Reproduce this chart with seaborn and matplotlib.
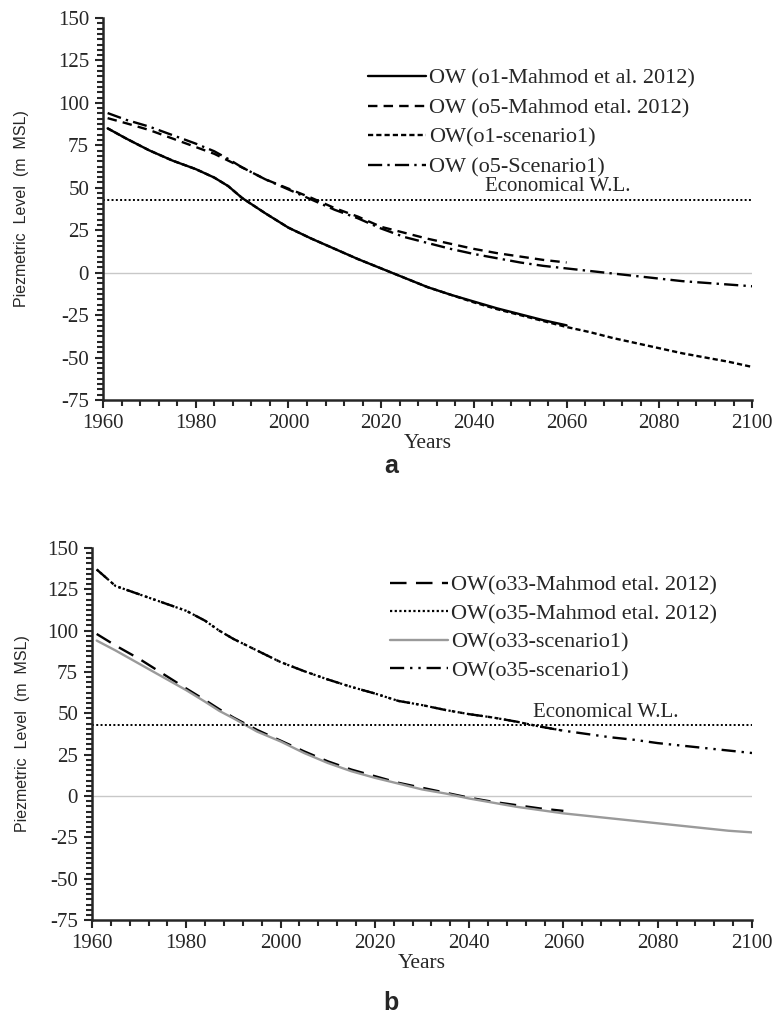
import matplotlib
matplotlib.use("Agg")
import matplotlib.pyplot as plt
from matplotlib.ticker import MultipleLocator, AutoMinorLocator
import seaborn as sns

# ---- data (panel a) ----
yrs_m = [1961, 1965, 1970, 1975, 1980, 1984, 1987, 1990, 1995, 2000, 2005, 2010,
         2015, 2020, 2025, 2030, 2035, 2040, 2045, 2050, 2055, 2060]
yrs_s = yrs_m + [2065, 2070, 2075, 2080, 2085, 2090, 2095, 2100]

o1_mahmod = [85, 79, 72, 66, 61, 56, 51, 44, 35, 26.5, 20, 14,
             8, 2.5, -3, -8.5, -13, -17, -21, -24.5, -28, -31]
o5_mahmod = [91, 88, 84, 79, 74, 70, 66, 62, 55, 49.5, 44, 38,
             33, 27, 23.5, 20, 17, 14, 11.5, 9.5, 7.5, 6]
o1_scen = [85, 79, 72, 66, 61, 56, 51, 44, 35, 26.5, 20, 14,
           8, 2.5, -3, -8.5, -13, -17.5, -21.5, -25, -28.5, -32,
           -35, -38.5, -41.5, -44.5, -47.5, -50, -52.5, -55.5]
o5_scen = [94, 90, 86, 81, 76, 71.5, 67, 62, 55, 49, 43, 37,
           32, 26, 21, 17.5, 14, 11, 8.5, 6, 4, 2.5,
           1, -0.5, -2, -3.5, -5, -6, -7, -8]

# ---- data (panel b) ----
o33_mahmod = [98, 91, 83, 74, 65, 58, 52.5, 47.5, 40, 33.5, 27, 21,
              16, 12, 8, 5, 2, -1, -3.5, -5.5, -7.5, -9]
o35_mahmod = [137, 127, 122, 117, 112, 106, 100, 95, 88, 81, 75.5, 70.5,
              66, 62, 57.5, 55, 52, 49.5, 47.5, 45, 42, 39.5]
o33_scen = [94, 88, 80, 72, 64, 57, 51.5, 47, 39, 33, 26, 20,
            15, 11, 7.5, 4, 1.5, -1.5, -4, -6.5, -8.5, -10.5,
            -12, -13.5, -15, -16.5, -18, -19.5, -21, -22]
o35_scen = [137, 127, 122, 117, 112, 106, 100, 95, 88, 81, 75.5, 70.5,
            66, 62, 57.5, 55, 52, 49.5, 47.5, 45, 42, 39.5,
            37.5, 35.5, 34, 32, 30.5, 29, 27.5, 26]

econ_wl = 43

serif = "Liberation Serif"
sans = "Liberation Sans"

sns.set_style("ticks")
plt.rcParams["font.family"] = [serif, "DejaVu Serif"]
plt.rcParams["axes.unicode_minus"] = False

fig = plt.figure(figsize=(7.82, 10.21), dpi=100)
ax1 = fig.add_axes([0.1317, 0.6082, 0.830, 0.3742])
ax2 = fig.add_axes([0.1176, 0.0989, 0.844, 0.3644])

lw = 1.7
sns.lineplot(x=yrs_m, y=o1_mahmod, ax=ax1, color="black", lw=lw,
             linestyle="-", label="OW (o1-Mahmod et al. 2012)")
sns.lineplot(x=yrs_m, y=o5_mahmod, ax=ax1, color="black", lw=lw,
             linestyle=(0, (4, 2.6)), label="OW (o5-Mahmod etal. 2012)")
sns.lineplot(x=yrs_s, y=o1_scen, ax=ax1, color="black", lw=lw,
             linestyle=(0, (2.2, 1.3)), label="OW(o1-scenario1)")
sns.lineplot(x=yrs_s, y=o5_scen, ax=ax1, color="black", lw=lw,
             linestyle=(0, (6, 2.2, 1, 2.2)), label="OW (o5-Scenario1)")

sns.lineplot(x=yrs_m, y=o33_mahmod, ax=ax2, color="black", lw=lw,
             linestyle=(0, (7, 4)), label="OW(o33-Mahmod etal. 2012)")
sns.lineplot(x=yrs_m, y=o35_mahmod, ax=ax2, color="black", lw=1.6,
             linestyle=(0, (1, 1.1)), label="OW(o35-Mahmod etal. 2012)")
sns.lineplot(x=yrs_s, y=o33_scen, ax=ax2, color="#9a9a9a", lw=lw,
             linestyle="-", label="OW(o33-scenario1)")
sns.lineplot(x=yrs_s, y=o35_scen, ax=ax2, color="black", lw=lw,
             linestyle=(0, (6, 2.5, 1, 2.5, 1, 2.5)), label="OW(o35-scenario1)")

legend_pos = [(0.4706, 0.933), (0.4987, 0.4368)]
legend_spacing = [0.4, 0.36]
text_x = [2058, 2069]
ylabel_pad = [21, 12]

for ax, lpos, lsp, tx, pad in zip([ax1, ax2], legend_pos, legend_spacing,
                                  text_x, ylabel_pad):
    ax.axhline(0, color="#c8c8c8", lw=1.0, zorder=0)
    ax.axhline(econ_wl, color="black", lw=1.4, linestyle=(0, (1, 1.2)))
    ax.text(tx, econ_wl + 2, "Economical W.L.", ha="center", va="bottom",
            fontsize=15)
    ax.set_xlim(1960, 2100)
    ax.set_ylim(-75, 150)
    ax.xaxis.set_major_locator(MultipleLocator(20))
    ax.xaxis.set_minor_locator(MultipleLocator(4))
    ax.yaxis.set_major_locator(MultipleLocator(25))
    ax.yaxis.set_minor_locator(AutoMinorLocator(8))
    ax.tick_params(which="major", direction="out", length=6, width=1.5,
                   labelsize=15, pad=4)
    ax.tick_params(which="minor", direction="out", length=4, width=1.5)
    sns.despine(ax=ax)
    for s in ["left", "bottom"]:
        ax.spines[s].set_linewidth(1.8)
    ax.set_xlabel("Years", fontsize=15.5, labelpad=1)
    ax.set_ylabel("Piezmetric  Level  (m  MSL)", fontsize=11.5, family=sans,
                  labelpad=pad)
    ax.legend(loc="upper left", bbox_to_anchor=lpos, bbox_transform=fig.transFigure,
              frameon=False, fontsize=16, handlelength=2.6, handletextpad=0.15,
              labelspacing=lsp, borderpad=0, borderaxespad=0)

fig.text(0.5, 1 - 466 / 1021, "a", ha="center", va="center", fontsize=18,
         fontweight="bold", family=sans)
fig.text(0.5, 1 - 1003 / 1021, "b", ha="center", va="center", fontsize=18,
         fontweight="bold", family=sans)

fig.savefig("out.png", dpi=100)
